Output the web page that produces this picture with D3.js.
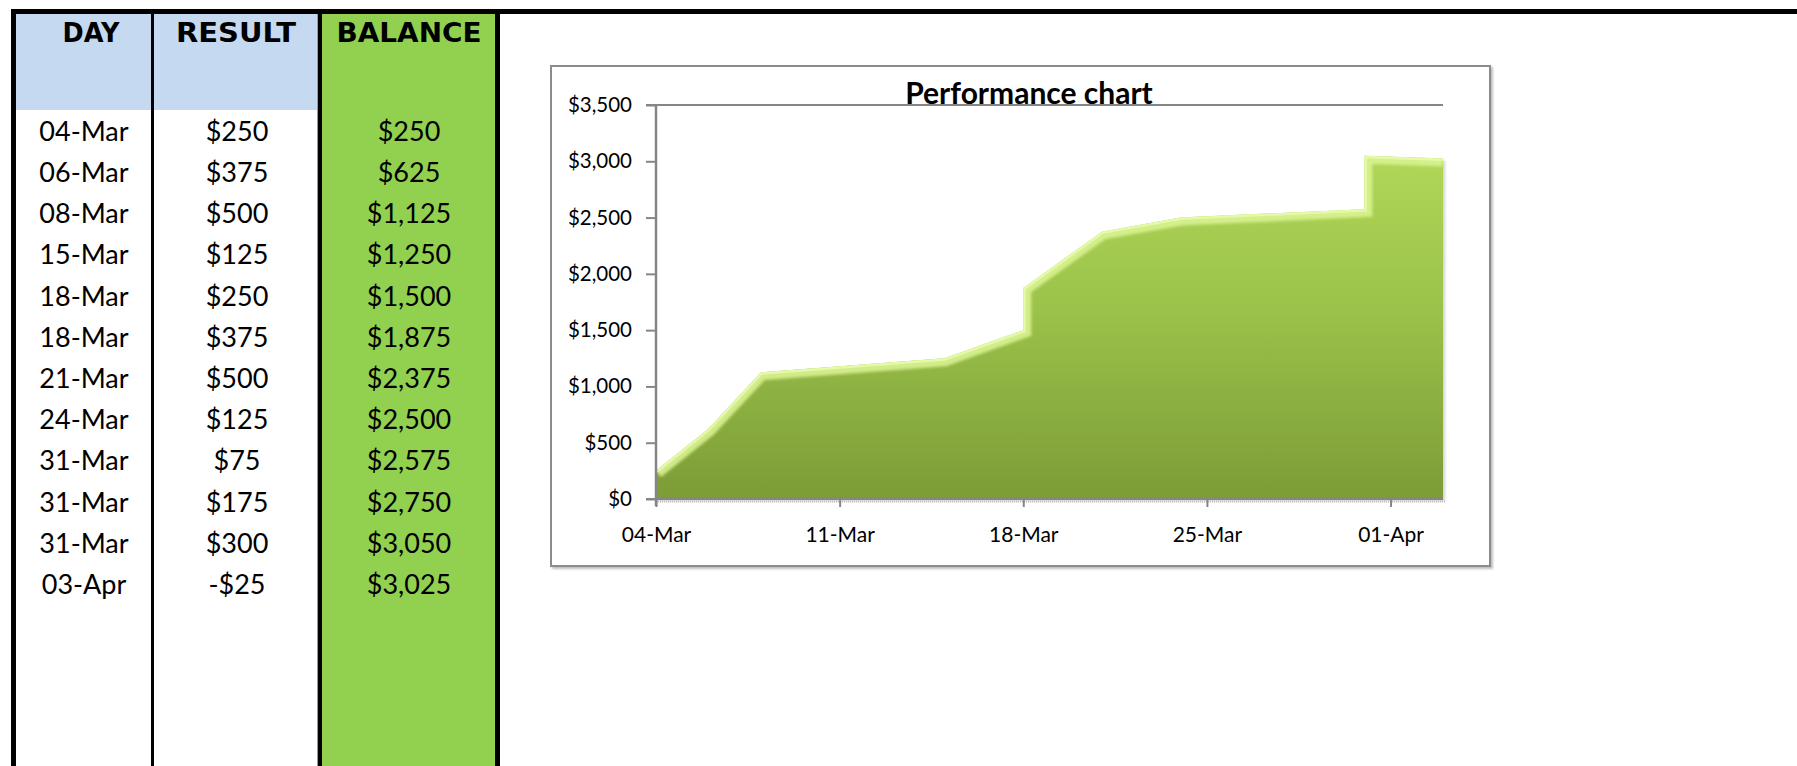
<!DOCTYPE html>
<html>
<head>
<meta charset="utf-8">
<script src="https://cdn.jsdelivr.net/npm/d3@7"></script>
<style>
  body { margin: 0; background: #fff; }
  svg { display: block; }
</style>
</head>
<body>
<div id="sheet"></div>
<script>
// table + chart data
var headers = ["DAY", "RESULT", "BALANCE"];
var days = ["04-Mar", "06-Mar", "08-Mar", "15-Mar", "18-Mar", "18-Mar", "21-Mar", "24-Mar", "31-Mar", "31-Mar", "31-Mar", "03-Apr"];
var dayNums = [[2, 4], [2, 6], [2, 8], [2, 15], [2, 18], [2, 18], [2, 21], [2, 24], [2, 31], [2, 31], [2, 31], [3, 3]];
var results = [250, 375, 500, 125, 250, 375, 500, 125, 75, 175, 300, -25];
var balances = [250, 625, 1125, 1250, 1500, 1875, 2375, 2500, 2575, 2750, 3050, 3025];
var yTicks = [0, 500, 1000, 1500, 2000, 2500, 3000, 3500];
var chartTitle = "Performance chart";

var W = 1797, H = 766;
var svg = d3.select("#sheet").append("svg")
    .attr("width", W)
    .attr("height", H);

var money = function (v) { return (v < 0 ? "-" : "") + "$" + d3.format(",")(Math.abs(v)); };

// ---------- table ----------
var hdrCenter = [91, 236, 409];
var colCenter = [84, 237, 409];
var rowY0 = 131, rowH = 41.2;

svg.append("rect").attr("x", 16).attr("y", 14).attr("width", 135).attr("height", 96).attr("fill", "#c5d9f1");
svg.append("rect").attr("x", 154).attr("y", 14).attr("width", 163).attr("height", 96).attr("fill", "#c5d9f1");
svg.append("rect").attr("x", 322).attr("y", 14).attr("width", 173).attr("height", H - 14).attr("fill", "#92d050");

// borders
svg.append("rect").attr("x", 11).attr("y", 9).attr("width", W - 11).attr("height", 5).attr("fill", "#000");
svg.append("rect").attr("x", 11).attr("y", 9).attr("width", 5).attr("height", H - 9).attr("fill", "#000");
svg.append("rect").attr("x", 151).attr("y", 14).attr("width", 3).attr("height", H - 14).attr("fill", "#000");
svg.append("rect").attr("x", 317).attr("y", 14).attr("width", 1).attr("height", H - 14).attr("fill", "#9a9a9a");
svg.append("rect").attr("x", 318).attr("y", 14).attr("width", 4).attr("height", H - 14).attr("fill", "#000");
svg.append("rect").attr("x", 495).attr("y", 14).attr("width", 5).attr("height", H - 14).attr("fill", "#000");

var hdrW = [57, 120, 145];
svg.selectAll("text.hdr")
    .data(headers)
    .enter()
    .append("text")
    .attr("class", "hdr")
    .attr("x", function (d, i) { return hdrCenter[i] - hdrW[i] / 2; })
    .attr("y", 42)
    .attr("textLength", function (d, i) { return hdrW[i]; })
    .attr("lengthAdjust", "spacingAndGlyphs")
    .style("font-family", "'Comic Sans MS', 'DejaVu Sans', sans-serif")
    .style("font-weight", "bold")
    .style("font-size", "27px")
    .style("fill", "#000")
    .text(function (d) { return d; });

var cellFont = "Lato, 'Noto Sans', sans-serif";
function addColumn(vals, ci) {
    svg.append("g").selectAll("text")
        .data(vals)
        .enter()
        .append("text")
        .attr("x", colCenter[ci])
        .attr("y", function (d, i) { return rowY0 + i * rowH; })
        .attr("dy", "0.36em")
        .attr("text-anchor", "middle")
        .style("font-family", cellFont)
        .style("font-size", "27px")
        .style("fill", "#000")
        .text(function (d) { return d; });
}
addColumn(days, 0);
addColumn(results.map(money), 1);
addColumn(balances.map(money), 2);

// ---------- chart ----------
var box = { x: 551, y: 66, w: 939, h: 500 };
var defs = svg.append("defs");

var shadow = defs.append("filter").attr("id", "boxShadow").attr("x", "-5%").attr("y", "-5%").attr("width", "110%").attr("height", "110%");
shadow.append("feDropShadow").attr("dx", 2).attr("dy", 2).attr("stdDeviation", 1).attr("flood-color", "#000").attr("flood-opacity", 0.25);

svg.append("rect")
    .attr("x", box.x).attr("y", box.y)
    .attr("width", box.w).attr("height", box.h)
    .attr("fill", "#fff")
    .attr("stroke", "#8c8c8c")
    .attr("stroke-width", 2)
    .attr("filter", "url(#boxShadow)");

var dates = dayNums.map(function (d) { return new Date(Date.UTC(2011, d[0], d[1])); });
var x = d3.scaleUtc()
    .domain([dates[0], dates[dates.length - 1]])
    .range([656, 1443]);
var y = d3.scaleLinear()
    .domain([0, 3500])
    .range([499, 105]);

var pts = dates.map(function (d, i) { return [d, balances[i]]; });

var grad = defs.append("linearGradient").attr("id", "areaFill")
    .attr("gradientUnits", "userSpaceOnUse")
    .attr("x1", 0).attr("y1", y(3050)).attr("x2", 0).attr("y2", y(0));
grad.append("stop").attr("offset", "0%").attr("stop-color", "#b0d757");
grad.append("stop").attr("offset", "45%").attr("stop-color", "#9bc24a");
grad.append("stop").attr("offset", "100%").attr("stop-color", "#7c9c36");

var blur = defs.append("filter").attr("id", "soft");
blur.append("feGaussianBlur").attr("stdDeviation", 1.6);

var areaGen = d3.area()
    .x(function (d) { return x(d[0]); })
    .y0(y(0))
    .y1(function (d) { return y(d[1]); });
var lineGen = d3.line()
    .x(function (d) { return x(d[0]); })
    .y(function (d) { return y(d[1]); });

defs.append("clipPath").attr("id", "areaClip")
    .append("path").attr("d", areaGen(pts));

// soft shadow of the area
svg.append("path")
    .attr("d", areaGen(pts))
    .attr("transform", "translate(2,2)")
    .attr("fill", "#000")
    .attr("opacity", 0.18)
    .attr("filter", "url(#soft)");

svg.append("path")
    .attr("d", areaGen(pts))
    .attr("fill", "url(#areaFill)");

var bevel = svg.append("g").attr("clip-path", "url(#areaClip)");
// top highlight
bevel.append("path")
    .attr("d", lineGen(pts))
    .attr("fill", "none")
    .attr("stroke", "#d9f392")
    .attr("stroke-width", 16)
    .attr("opacity", 0.9)
    .attr("filter", "url(#soft)");
bevel.append("path")
    .attr("d", lineGen(pts))
    .attr("fill", "none")
    .attr("stroke", "#eafbb0")
    .attr("stroke-width", 5)
    .attr("opacity", 0.8);
// right and bottom darker edges
var last = pts[pts.length - 1];
bevel.append("line")
    .attr("x1", x(last[0])).attr("y1", y(last[1]))
    .attr("x2", x(last[0])).attr("y2", y(0))
    .attr("stroke", "#6d8c28")
    .attr("stroke-width", 14)
    .attr("filter", "url(#soft)");
bevel.append("line")
    .attr("x1", x(dates[0])).attr("y1", y(0))
    .attr("x2", x(last[0])).attr("y2", y(0))
    .attr("stroke", "#76953a")
    .attr("stroke-width", 12)
    .attr("opacity", 0.7)
    .attr("filter", "url(#soft)");
bevel.append("line")
    .attr("x1", x(dates[0])).attr("y1", y(balances[0]))
    .attr("x2", x(dates[0])).attr("y2", y(0))
    .attr("stroke", "#8fb446")
    .attr("stroke-width", 10)
    .attr("filter", "url(#soft)");

// top gridline at $3,500
svg.append("line")
    .attr("x1", 646).attr("x2", 1443)
    .attr("y1", y(3500)).attr("y2", y(3500))
    .attr("stroke", "#868686")
    .attr("stroke-width", 2);

// axes
var axisColor = "#868686";
var tickFont = "Lato, 'Noto Sans', sans-serif";

var yAxis = svg.append("g")
    .attr("transform", "translate(656,0)")
    .call(d3.axisLeft(y).tickValues(yTicks).tickSize(10).tickPadding(14).tickFormat(d3.format("$,")));
yAxis.select(".domain").attr("stroke", axisColor).attr("stroke-width", 2.5).attr("d", "M0,105V506");
yAxis.selectAll(".tick line").attr("stroke", axisColor).attr("stroke-width", 2);
yAxis.selectAll(".tick text")
    .style("font-family", tickFont)
    .style("font-size", "20.5px")
    .attr("fill", "#000");

var xTicks = d3.utcDay.range(dates[0], dates[dates.length - 1], 7);
// dotted shadow under the category axis
svg.append("line")
    .attr("x1", 656).attr("x2", 1445)
    .attr("y1", 501.5).attr("y2", 501.5)
    .attr("stroke", "#bdbdbd")
    .attr("stroke-width", 2)
    .attr("stroke-dasharray", "1,1");

var xAxis = svg.append("g")
    .attr("transform", "translate(0," + y(0) + ")")
    .call(d3.axisBottom(x).tickValues(xTicks).tickSize(8).tickPadding(20).tickFormat(d3.utcFormat("%d-%b")));
xAxis.select(".domain").attr("stroke", axisColor).attr("stroke-width", 2).attr("d", "M646,0H1443");
xAxis.selectAll(".tick line").attr("stroke", axisColor).attr("stroke-width", 2);
xAxis.selectAll(".tick text")
    .style("font-family", tickFont)
    .style("font-size", "21px")
    .attr("fill", "#000");

svg.append("text")
    .attr("x", 1029)
    .attr("y", 104)
    .attr("text-anchor", "middle")
    .style("font-family", "Lato, 'Noto Sans', sans-serif")
    .style("font-weight", "bold")
    .style("font-size", "30px")
    .style("fill", "#000")
    .text(chartTitle);
</script>
</body>
</html>
